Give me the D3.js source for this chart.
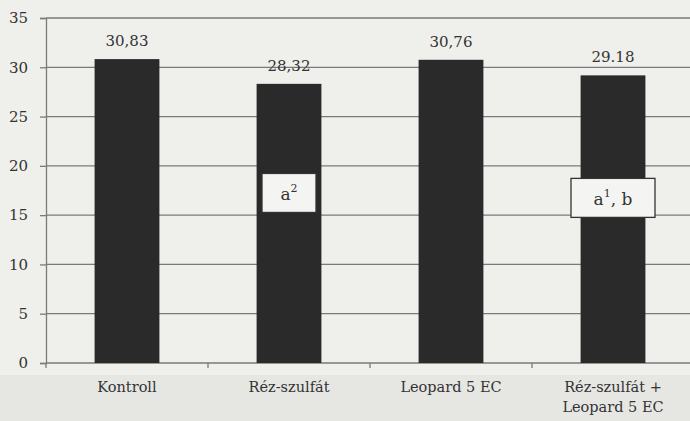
<!DOCTYPE html>
<html><head><meta charset="utf-8">
<script src="https://cdn.jsdelivr.net/npm/d3@7"></script>
<style>html,body{margin:0;padding:0;background:#e6e6e3;}svg{display:block;}
text{font-family:"DejaVu Serif",serif;}</style>
</head><body>
<svg id="c" width="690" height="421"></svg>
<script>
const categories = [["Kontroll"], ["Réz-szulfát"], ["Leopard 5 EC"], ["Réz-szulfát +", "Leopard 5 EC"]];
const values = [30.83, 28.32, 30.76, 29.18];
const valueLabels = ["30,83", "28,32", "30,76", "29.18"];
const boxLabels = [null, {base: "a", sup: "2", rest: ""}, null, {base: "a", sup: "1", rest: ", b"}];
const boxLevel = [null, 17.2, null, 16.7];
const yTicks = [0, 5, 10, 15, 20, 25, 30, 35];

(function () {
const svg = d3.select("#c");
const pLeft = 46, pRight = 694, pTop = 18, pBottom = 363;

svg.append("rect").attr("x", 0).attr("y", 0).attr("width", 690).attr("height", 375).attr("fill", "#efefec");

const x = d3.scaleBand().domain(d3.range(categories.length)).range([pLeft, pRight]).paddingInner(0.6).paddingOuter(0.3);
const xb = d3.scaleBand().domain(d3.range(categories.length)).range([pLeft, pRight]);
const y = d3.scaleLinear().domain([0, 35]).range([pBottom, pTop]);

svg.append("g").selectAll("line").data(yTicks).join("line")
  .attr("x1", pLeft).attr("x2", 690).attr("y1", d => y(d)).attr("y2", d => y(d))
  .attr("stroke", "#7a7a7a").attr("stroke-width", 1.3);

const ya = svg.append("g").attr("transform", `translate(${pLeft},0)`)
  .call(d3.axisLeft(y).tickValues(yTicks).tickSize(6).tickPadding(12));
ya.attr("font-family", null);
ya.select(".domain").attr("stroke", "#7a7a7a").attr("stroke-width", 1.3);
ya.selectAll(".tick line").attr("stroke", "#7a7a7a").attr("stroke-width", 1.3);
ya.selectAll("text").attr("font-size", 15).attr("fill", "#333");

const bounds = d3.range(categories.length).map(i => xb(i));
svg.append("g").selectAll("line").data(bounds).join("line")
  .attr("x1", d => d).attr("x2", d => d).attr("y1", pBottom).attr("y2", pBottom + 5)
  .attr("stroke", "#7a7a7a").attr("stroke-width", 1.3);

svg.append("g").selectAll("rect").data(values).join("rect")
  .attr("x", (d, i) => x(i)).attr("width", x.bandwidth())
  .attr("y", d => y(d)).attr("height", d => pBottom - y(d))
  .attr("fill", "#2b2a2a");

svg.append("g").selectAll("text").data(values).join("text")
  .attr("x", (d, i) => x(i) + x.bandwidth() / 2).attr("y", d => y(d) - 13)
  .attr("text-anchor", "middle").attr("font-size", 15).attr("fill", "#333")
  .text((d, i) => valueLabels[i]);

boxLabels.forEach((b, i) => {
  if (!b) return;
  const cx = x(i) + x.bandwidth() / 2;
  const cy = y(boxLevel[i]);
  const g = svg.append("g");
  const w = b.rest ? 84 : 54;
  g.append("rect").attr("x", cx - w / 2).attr("y", cy - 20).attr("width", w).attr("height", 39)
    .attr("fill", "#f4f4f2").attr("stroke", "#333").attr("stroke-width", 1.3);
  const t = g.append("text").attr("x", cx).attr("y", cy + 7).attr("text-anchor", "middle")
    .attr("font-size", 17).attr("fill", "#333");
  t.append("tspan").text(b.base);
  t.append("tspan").attr("dy", -8).attr("font-size", 11).text(b.sup);
  t.append("tspan").attr("dy", 8).text(b.rest);
});

categories.forEach((lines, i) => {
  const cx = xb(i) + xb.bandwidth() / 2;
  const t = svg.append("text").attr("x", cx).attr("y", 392).attr("text-anchor", "middle")
    .attr("font-size", 14.5).attr("fill", "#333");
  lines.forEach((l, j) => t.append("tspan").attr("x", cx).attr("dy", j ? 20 : 0).text(l));
});
})();
</script>
</body></html>
